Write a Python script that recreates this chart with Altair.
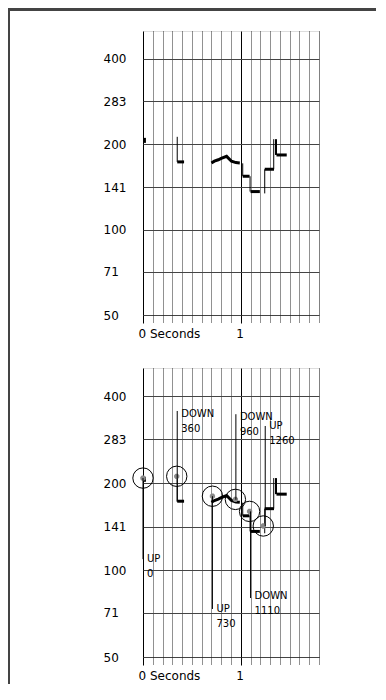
import altair as alt
import pandas as pd

# ---------------- data ----------------
# pitch track: thick pieces (segment id, time in s, pitch in Hz, line width)
seg_id = [1, 1, 2, 2, 3, 3, 3, 3, 3, 3, 3, 3, 4, 4, 5, 5, 6, 6, 7, 7]
seg_t = [0.00, 0.03, 0.35, 0.42, 0.70, 0.73, 0.77, 0.80, 0.855, 0.905, 0.95, 0.99,
         1.02, 1.09, 1.10, 1.195, 1.245, 1.34, 1.365, 1.47]
seg_f = [206, 206, 173, 173, 171.5, 174, 176, 178, 181, 174, 172, 171.5,
         154, 154, 136, 136, 163, 163, 183, 183]
seg_w = [5, 5, 3, 3, 3, 3, 3, 3, 3, 3, 3, 3, 3, 3, 3, 3, 3, 3, 3, 3]

# thin connectors between pieces
con_t = [0.35, 1.02, 1.095, 1.245, 1.337, 1.36]
con_f1 = [212, 171, 154, 134, 163, 208]
con_f2 = [173, 154, 136, 163, 208, 183]
con_w = [1, 1, 1, 1, 1, 2]

# circled tone targets (bottom panel)
circ_t = [0.0, 0.345, 0.71, 0.945, 1.09, 1.23]
circ_f = [208, 211, 180, 175.5, 159.5, 142]

# annotations (bottom panel)
lab_t = [0.0, 0.35, 0.71, 0.95, 1.10, 1.25]
lab_dir = ["UP", "DOWN", "UP", "DOWN", "DOWN", "UP"]
lab_ms = ["0", "360", "730", "960", "1110", "1260"]
lab_f1 = [208, 355, 180, 346, 159.5, 315]
lab_f2 = [109, 172, 73.3, 175, 80, 142]
lab_text_f = [109, 346, 73.3, 338, 81.3, 315]

# axes
x_ticks = [0.0, 0.1, 0.2, 0.3, 0.4, 0.5, 0.6, 0.7, 0.8, 0.9, 1.0,
           1.1, 1.2, 1.3, 1.4, 1.5, 1.6, 1.7, 1.8]
y_ticks = [50, 71, 100, 141, 200, 283, 400]
x_domain = [0, 1.8]
y_domain = [50, 500]

FONT = "DejaVu Sans"

seg_df = pd.DataFrame({"seg": seg_id, "t": seg_t, "f": seg_f, "w": seg_w})
con_df = pd.DataFrame({"t": con_t, "f1": con_f1, "f2": con_f2, "w": con_w})
circ_df = pd.DataFrame({"t": circ_t, "f": circ_f})
lab_df = pd.DataFrame({"t": lab_t, "dir": lab_dir, "ms": lab_ms,
                       "f1": lab_f1, "f2": lab_f2, "tf": lab_text_f})

whole = "abs(datum.value - round(datum.value)) < 0.001"

x_axis = alt.Axis(
    values=x_ticks, tickCount=100, title=None, domain=False, grid=True,
    gridDash={"condition": {"test": whole, "value": []}, "value": [1, 1]},
    gridColor={"condition": {"test": whole, "value": "#000000"}, "value": "#222222"},
    gridWidth=1, gridOpacity=1,
    ticks=True, tickSize=8,
    tickDash={"condition": {"test": whole, "value": []}, "value": [1, 1]},
    tickColor={"condition": {"test": whole, "value": "#000000"}, "value": "#222222"},
    labelExpr="datum.value == 0 ? '0 Seconds' : (abs(datum.value - 1) < 0.001 ? '1' : '')",
    labelAlign="left", labelOffset=-5, labelPadding=5, labelOverlap=False,
    labelFont=FONT, labelFontSize=12, labelColor="#000000", labelFlush=False,
)
y_axis = alt.Axis(
    values=y_ticks, tickCount=100, title=None, domain=False, grid=True,
    gridColor="#444444", gridWidth=1, gridOpacity=1,
    ticks=False, labelAlign="left", labelPadding=40,
    labelFont=FONT, labelFontSize=12, labelColor="#000000", labelOverlap=False,
)

FRAME = "#444444"


def frame_rule(**enc):
    return alt.Chart(seg_df).mark_rule(
        color=FRAME, strokeWidth=2, strokeCap="square").encode(**enc)


def panel(h, bottom):
    xs = alt.Scale(domain=x_domain, nice=False, zero=False)
    ys = alt.Scale(type="log", domain=y_domain, nice=False)
    track = alt.Chart(seg_df).mark_line(color="black", strokeCap="butt").encode(
        x=alt.X("t:Q", scale=xs, axis=x_axis),
        y=alt.Y("f:Q", scale=ys, axis=y_axis),
        detail="seg:N",
        size=alt.Size("w:Q", scale=None, legend=None),
    )
    conn = alt.Chart(con_df).mark_rule(color="black").encode(
        x="t:Q", y="f1:Q", y2="f2:Q",
        strokeWidth=alt.StrokeWidth("w:Q", scale=None, legend=None),
    )
    layers = [track, conn]
    if bottom:
        circles = alt.Chart(circ_df).mark_point(
            shape="circle", size=415, filled=False, color="black", strokeWidth=1, opacity=1
        ).encode(x="t:Q", y="f:Q")
        ast1 = alt.Chart(circ_df).mark_point(
            shape="cross", size=28, filled=True, color="#8a8a8a", opacity=1
        ).encode(x="t:Q", y="f:Q")
        ast2 = alt.Chart(circ_df).mark_point(
            shape="cross", size=28, filled=True, color="#8a8a8a", opacity=1, angle=45
        ).encode(x="t:Q", y="f:Q")
        lines = alt.Chart(lab_df).mark_rule(color="black", strokeWidth=1).encode(
            x="t:Q", y="f1:Q", y2="f2:Q")
        txt1 = alt.Chart(lab_df).mark_text(
            align="left", baseline="middle", dx=4, font=FONT, fontSize=10, color="black"
        ).encode(x="t:Q", y="tf:Q", text="dir:N")
        txt2 = alt.Chart(lab_df).mark_text(
            align="left", baseline="middle", dx=4, dy=15, font=FONT, fontSize=10, color="black"
        ).encode(x="t:Q", y="tf:Q", text="ms:N")
        layers += [circles, ast1, ast2, lines, txt1, txt2]
        # window frame: left edge (lower part)
        layers.append(frame_rule(x=alt.value(-134), y=alt.value(-20.5), y2=alt.value(h + 26)))
    else:
        # window frame: top edge and left edge (upper part)
        layers.append(frame_rule(x=alt.value(-134), x2=alt.value(232), y=alt.value(-21.5)))
        layers.append(frame_rule(x=alt.value(-134), y=alt.value(-21.5), y2=alt.value(h + 30)))
    return alt.layer(*layers).properties(width=176, height=h)


chart = alt.vconcat(
    panel(284, False),
    panel(289, True),
    spacing=-2,
).properties(
    padding={"top": -1, "left": -1, "right": 0, "bottom": -1}
).configure_view(stroke=None).configure(background="white")

chart.save("out.html", embed_options={"renderer": "svg", "actions": False})
